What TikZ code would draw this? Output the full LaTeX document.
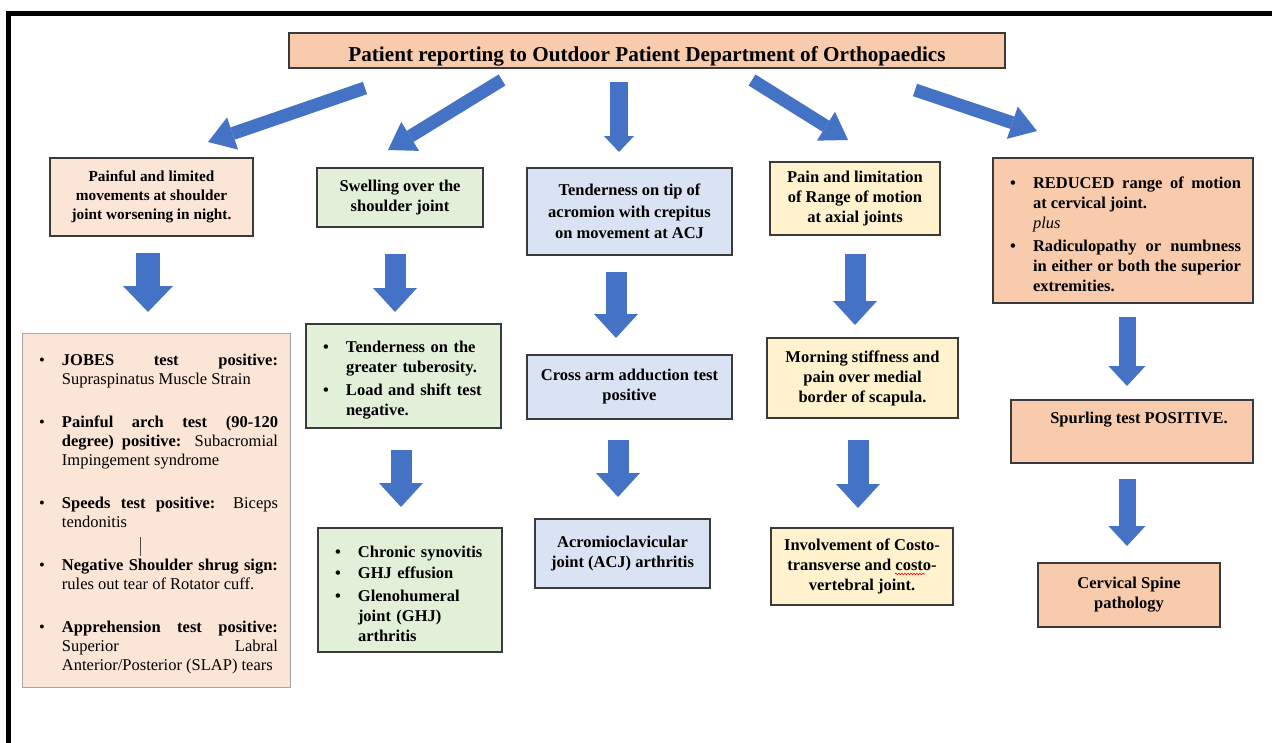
\documentclass[tikz,border=0pt]{standalone}
\usepackage{fontspec}
\setmainfont{Liberation Serif}
\usetikzlibrary{arrows.meta,decorations.pathmorphing}
\definecolor{peach}{HTML}{F8CBAD}
\definecolor{lpeach}{HTML}{FBE5D6}
\definecolor{lgreen}{HTML}{E2F0D9}
\definecolor{lblue}{HTML}{DAE3F3}
\definecolor{lyellow}{HTML}{FFF2CC}
\definecolor{arrowblue}{HTML}{4472C4}
\definecolor{edge}{HTML}{3A3A3A}
\definecolor{lightedge}{HTML}{A6A6A6}
\hyphenpenalty=10000
\exhyphenpenalty=10000
\tolerance=9999
\pretolerance=9999
\newcommand{\bitem}[2][28pt]{\par\hangindent=#1\relax\hangafter=0\noindent\llap{\textbullet\hspace{17pt}}#2\par}
\tikzset{
  box/.style={draw=edge, line width=1.5pt, inner sep=0pt, align=center,
    font=\fontsize{16.5}{20}\selectfont\bfseries},
  tarrow/.style={arrowblue, line width=13pt, -{Triangle[width=34pt,length=26pt,line width=0pt]}},
  midarrow/.style={arrowblue, line width=18pt, -{Triangle[width=30pt,length=16pt,line width=0pt]}},
  varrow/.style={arrowblue, line width=21pt, -{Triangle[width=44pt,length=24pt,line width=0pt]}},
  bigarrow/.style={arrowblue, line width=24pt, -{Triangle[width=50pt,length=26pt,line width=0pt]}},
  smallarrow/.style={arrowblue, line width=17pt, -{Triangle[width=37pt,length=20pt,line width=0pt]}},
}
\begin{document}
\begin{tikzpicture}[x=1pt,y=-1pt]
\fill[white] (0,0) rectangle (1272,742);
\useasboundingbox (0,0) rectangle (1272,742);
% frame
\draw[line width=5pt, line join=miter] (8.5,745) -- (8.5,13.5) -- (1275,13.5);

% title
\node[box, fill=peach, minimum width=716pt, minimum height=35pt, text height=28pt, text depth=7pt,
  font=\fontsize{21.2}{24}\selectfont\bfseries] (title) at (647,50.5)
  {Patient reporting to Outdoor Patient Department of Orthopaedics};

% column 1
\node[box, fill=lpeach, minimum width=203pt, minimum height=78pt,
  font=\fontsize{15.3}{19}\selectfont\bfseries] (a1) at (151.5,197)
  {Painful and limited\\movements at shoulder\\joint worsening in night.};
\node[box, fill=lpeach, draw=lightedge, line width=1pt, minimum width=268pt, minimum height=354pt,
  text width=244pt, align=justify, font=\fontsize{16.5}{19}\selectfont] (a2) at (156,510)
  {\bitem{\textbf{JOBES test positive:}\break Supraspinatus Muscle Strain}\vspace{24pt}%
   \bitem{\textbf{Painful arch test (90-120\break degree) positive:} Subacromial\break Impingement syndrome}\vspace{24pt}%
   \bitem{\textbf{Speeds test positive:} Biceps\break tendonitis}\vspace{24pt}%
   \bitem{\textbf{Negative Shoulder shrug sign:}\break rules out tear of Rotator cuff.}\vspace{24pt}%
   \bitem{\textbf{Apprehension test positive:}\break Superior Labral\break Anterior/Posterior (SLAP) tears}};

% column 2
\node[box, fill=lgreen, minimum width=166pt, minimum height=59pt] (b1) at (400,197.5)
  {Swelling over the\\shoulder joint};
\node[box, fill=lgreen, minimum width=195pt, minimum height=104pt, text width=167pt, align=left] (b2) at (403.5,376)
  {\bitem[26pt]{Tenderness on the\newline greater tuberosity.}\vspace{3pt}%
   \bitem[26pt]{Load and shift test\newline negative.}};
\node[box, fill=lgreen, minimum width=184pt, minimum height=124pt, text width=156pt, align=left] (b3) at (410,590)
  {\bitem[26pt]{Chronic synovitis}\vspace{1pt}%
   \bitem[26pt]{GHJ effusion}\vspace{3pt}%
   \bitem[26pt]{Glenohumeral\newline joint (GHJ)\newline arthritis}};

% column 3
\node[box, fill=lblue, minimum width=205pt, minimum height=87pt,
  font=\fontsize{16.5}{21.5}\selectfont\bfseries] (c1) at (629.5,211.5)
  {Tenderness on tip of\\acromion with crepitus\\on movement at ACJ};
\node[box, fill=lblue, minimum width=205pt, minimum height=64pt] (c2) at (629.5,387)
  {Cross arm adduction test\\positive};
\node[box, fill=lblue, minimum width=175pt, minimum height=69pt] (c3) at (622.5,553.5)
  {Acromioclavicular\\joint (ACJ) arthritis};

% column 4
\node[box, fill=lyellow, minimum width=170pt, minimum height=73pt] (d1) at (855,198.5)
  {Pain and limitation\\of Range of motion\\at axial joints};
\node[box, fill=lyellow, minimum width=191pt, minimum height=80pt] (d2) at (862.5,378)
  {Morning stiffness and\\pain over medial\\border of scapula.};
\node[box, fill=lyellow, minimum width=182pt, minimum height=77pt] (d3) at (862,566.5)
  {Involvement of Costo-\\transverse and costo-\\vertebral joint.};

% column 5
\node[box, fill=peach, minimum width=260pt, minimum height=145pt, text width=236pt, align=justify] (e1) at (1123,230.5)
  {\bitem{REDUCED range of motion\break at cervical joint.\newline{\mdseries\itshape plus}}\vspace{3pt}%
   \bitem{Radiculopathy or numbness\break in either or both the superior\break extremities.}};
\node[box, fill=peach, minimum width=242pt, minimum height=63pt, text height=23pt, text depth=40pt] (e2) at (1132,431.5)
  {\hspace*{14pt}Spurling test POSITIVE.};
\node[box, fill=peach, minimum width=182pt, minimum height=64pt] (e3) at (1129,595)
  {Cervical Spine\\pathology};

% arrow end points
\coordinate (t1s) at (365,88);   \coordinate (t1e) at (208,142);
\coordinate (t2s) at (502,80);   \coordinate (t2e) at (388,150);
\coordinate (t3s) at (619,82);   \coordinate (t3e) at (619,152);
\coordinate (t4s) at (752,80);   \coordinate (t4e) at (848,140);
\coordinate (t5s) at (915,90);   \coordinate (t5e) at (1037,131);
\coordinate (a1s) at (148,253);  \coordinate (a1e) at (148,312);
\coordinate (b1s) at (395,254);  \coordinate (b1e) at (395,312);
\coordinate (b2s) at (401,450);  \coordinate (b2e) at (401,507);
\coordinate (c1s) at (616,272);  \coordinate (c1e) at (616,338);
\coordinate (c2s) at (618,440);  \coordinate (c2e) at (618,497);
\coordinate (d1s) at (855,254);  \coordinate (d1e) at (855,325);
\coordinate (d2s) at (858,440);  \coordinate (d2e) at (858,508);
\coordinate (e1s) at (1127,317); \coordinate (e1e) at (1127,386);
\coordinate (e2s) at (1127,479); \coordinate (e2e) at (1127,546);

\draw[tarrow] (t1s) -- (t1e);
\draw[tarrow] (t2s) -- (t2e);
\draw[midarrow] (t3s) -- (t3e);
\draw[tarrow] (t4s) -- (t4e);
\draw[tarrow] (t5s) -- (t5e);
\draw[bigarrow] (a1s) -- (a1e);
\draw[varrow] (b1s) -- (b1e);
\draw[varrow] (b2s) -- (b2e);
\draw[varrow] (c1s) -- (c1e);
\draw[varrow] (c2s) -- (c2e);
\draw[varrow] (d1s) -- (d1e);
\draw[varrow] (d2s) -- (d2e);
\draw[smallarrow] (e1s) -- (e1e);
\draw[smallarrow] (e2s) -- (e2e);

% spell-check squiggle and cursor mark
\draw[red, line width=0.6pt, decorate, decoration={snake, amplitude=0.8pt, segment length=3pt}] (895,574) -- (925,574);
\draw[black!70, line width=0.8pt] (140,537) -- (140,556);
\end{tikzpicture}
\end{document}
